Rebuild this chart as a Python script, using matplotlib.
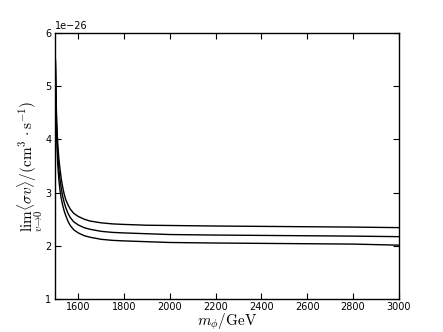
""" Annihilation cross section vs mass """

# imports
import matplotlib
matplotlib.use('Agg')
import matplotlib.pyplot as plt
import numpy as np

# data (units of 1e-26 cm^3 s^-1)
mass = [1500, 1503, 1506, 1510, 1515, 1520, 1526, 1532, 1538, 1545, 1555, 1565, 1580, 1600,
        1625, 1650, 1700, 1750, 1800, 1900, 2000, 2200, 2500, 2800, 3000]
sigmaTop = [5.50, 4.80, 4.30, 3.95, 3.65, 3.45, 3.25, 3.10, 2.98, 2.87, 2.77, 2.69, 2.61, 2.55,
            2.50, 2.465, 2.43, 2.41, 2.40, 2.385, 2.38, 2.37, 2.36, 2.35, 2.34]
sigmaMid = [5.50, 4.70, 4.15, 3.75, 3.45, 3.25, 3.07, 2.93, 2.82, 2.72, 2.61, 2.53, 2.45, 2.39,
            2.34, 2.31, 2.27, 2.25, 2.24, 2.225, 2.21, 2.20, 2.19, 2.18, 2.17]
sigmaBot = [5.50, 4.60, 4.00, 3.55, 3.25, 3.05, 2.88, 2.76, 2.66, 2.57, 2.46, 2.38, 2.30, 2.24,
            2.19, 2.16, 2.12, 2.10, 2.09, 2.075, 2.06, 2.05, 2.04, 2.03, 2.01]
yTicks = [1, 2, 3, 4, 5, 6]
xTicks = [1600, 1800, 2000, 2200, 2400, 2600, 2800, 3000]

plt.rcParams['mathtext.fontset'] = 'cm'

# figure
fig = plt.figure(figsize=(4.43, 3.32), dpi=100)
ax = fig.add_axes([0.125, 0.1, 0.775, 0.8])
scale = 1e-26
for curve in (sigmaTop, sigmaMid, sigmaBot):
	ax.plot(mass, np.array(curve) * scale, color='black', linewidth=1.0)

# axes
ax.set_xlim(1500, 3000)
ax.set_ylim(1 * scale, 6 * scale)
ax.set_xticks(xTicks)
ax.set_yticks(np.array(yTicks) * scale)
ax.tick_params(direction='in', top=True, right=True, labelsize=7, length=4, pad=3)
ax.tick_params(axis='x', pad=2)
ax.yaxis.get_offset_text().set_fontsize(7)
for s in ax.spines.values():
	s.set_linewidth(1.0)
ax.set_xlabel(r'$m_\phi/\mathrm{GeV}$', fontsize=11, labelpad=0)
ax.set_ylabel(r'$\lim_{v\to 0}\langle\sigma v\rangle/(\mathrm{cm}^3\cdot\mathrm{s}^{-1})$', fontsize=11, labelpad=0)

fig.savefig('out.png', dpi=100)
